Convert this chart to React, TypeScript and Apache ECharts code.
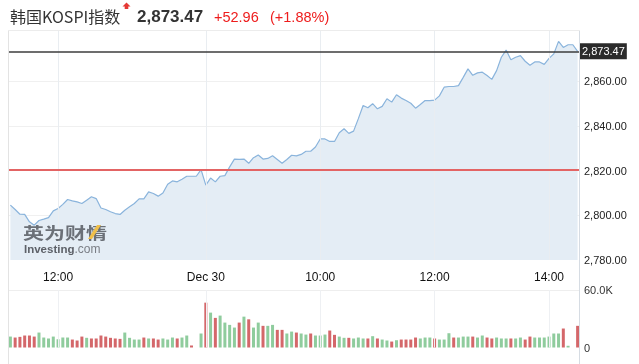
import React, { useEffect, useRef } from 'react';
import * as echarts from 'echarts';

// ---- data ----
const indexName = '韩国KOSPI指数';
const lastPrice = 2873.47;
const priceChange = 52.96;
const priceChangePct = 1.88;
const previousClose = 2820.51;

const sessions = [
  { day: 'Dec 29', start: '11:10', end: '14:30' },
  { day: 'Dec 30', start: '08:00', end: '14:30' },
];
const stepMinutes = 5;

function buildCategories(): string[] {
  const out: string[] = [];
  for (const s of sessions) {
    const [sh, sm] = s.start.split(':').map(Number);
    const [eh, em] = s.end.split(':').map(Number);
    for (let m = sh * 60 + sm; m <= eh * 60 + em; m += stepMinutes) {
      const hh = String(Math.floor(m / 60)).padStart(2, '0');
      const mm = String(m % 60).padStart(2, '0');
      out.push(`${s.day} ${hh}:${mm}`);
    }
  }
  return out;
}
const categories = buildCategories();

const tickCategories = ['Dec 29 12:00', 'Dec 30 08:00', 'Dec 30 10:00', 'Dec 30 12:00', 'Dec 30 14:00'];
const tickLabels = ['12:00', 'Dec 30', '10:00', '12:00', '14:00'];

const priceValues = [
  2804.6, 2802.6, 2800.5, 2800.4, 2797.1, 2795.6, 2797.7, 2798.3, 2799.0, 2802.0,
  2803.1, 2804.9, 2807.1, 2806.5, 2806.0, 2805.3, 2806.8, 2808.3, 2807.5, 2803.3,
  2802.6, 2801.6, 2800.8, 2800.4, 2802.3, 2803.8, 2805.3, 2807.4, 2807.4, 2810.5,
  2809.8, 2808.6, 2810.0, 2813.9, 2815.4, 2815.0, 2816.2, 2817.5, 2817.5, 2817.5,
  2820.5,
  2813.5, 2816.7, 2815.0, 2817.5, 2817.8, 2821.7, 2825.2, 2825.1, 2825.2, 2823.3,
  2825.8, 2827.0, 2825.2, 2825.5, 2826.7, 2825.0, 2823.3, 2825.0, 2826.9, 2826.6,
  2827.3, 2828.7, 2828.7, 2830.6, 2834.2, 2834.2, 2833.1, 2833.1, 2837.0, 2838.8,
  2836.7, 2837.7, 2843.3, 2849.2, 2848.2, 2850.0, 2847.7, 2848.8, 2852.2, 2850.7,
  2854.0, 2852.5, 2851.4, 2850.2, 2848.0, 2849.6, 2851.4, 2851.4, 2851.6, 2853.5,
  2857.4, 2857.7, 2857.7, 2858.1, 2861.8, 2865.6, 2862.7, 2863.8, 2864.1, 2862.6,
  2860.9, 2864.8, 2870.8, 2874.0, 2869.7, 2870.8, 2871.5, 2869.0, 2867.2, 2868.7,
  2868.7, 2867.6, 2870.3, 2872.3, 2877.9, 2875.2, 2876.4, 2876.4, 2873.47,
];

// volume in thousands
const volumeValues = [
  11.4, 10.4, 11.1, 12.5, 12.5, 11.4, 15.6, 10.4, 9.4, 11.4,
  8.6, 10.4, 10.4, 8.3, 7.3, 11.4, 10.1, 9.4, 9.4, 12.5,
  11.4, 10.1, 9.4, 9.0, 15.6, 10.1, 8.3, 8.3, 10.4, 9.4,
  9.4, 8.3, 9.4, 8.3, 10.4, 9.4, 10.4, 12.5, 2.1, 0,
  14.6,
  46.8, 36.4, 30.9, 33.3, 26.0, 23.6, 20.8, 26.0, 32.2, 29.4,
  20.8, 26.0, 22.6, 22.6, 23.6, 18.4, 18.4, 14.6, 16.6, 15.6,
  14.6, 13.5, 14.6, 12.5, 12.5, 13.5, 17.7, 13.2, 11.4, 10.1,
  10.1, 9.4, 10.4, 9.4, 9.4, 11.8, 9.4, 8.3, 7.3, 6.2,
  7.6, 8.3, 8.3, 8.3, 10.4, 9.4, 10.4, 10.4, 9.4, 8.3,
  8.3, 14.9, 10.4, 10.4, 11.4, 11.4, 11.4, 10.4, 12.5, 10.4,
  9.4, 10.4, 9.4, 9.4, 9.4, 9.4, 10.4, 8.3, 11.4, 10.4,
  10.4, 10.4, 11.4, 14.6, 14.6, 19.8, 1.8, 0, 22.6,
];
const volumeDirections = [
  'u', 'd', 'd', 'd', 'd', 'd', 'u', 'u', 'u', 'u',
  'u', 'u', 'u', 'd', 'd', 'd', 'u', 'd', 'd', 'd',
  'd', 'd', 'd', 'd', 'u', 'u', 'u', 'u', 'd', 'u',
  'd', 'd', 'u', 'u', 'u', 'd', 'u', 'u', 'd', 'u',
  'u',
  'd', 'u', 'd', 'u', 'u', 'u', 'u', 'd', 'u', 'd',
  'u', 'u', 'd', 'u', 'u', 'd', 'd', 'u', 'u', 'd',
  'u', 'u', 'd', 'u', 'u', 'u', 'd', 'd', 'u', 'u',
  'd', 'u', 'u', 'u', 'd', 'u', 'd', 'u', 'u', 'd',
  'u', 'd', 'd', 'd', 'd', 'u', 'u', 'u', 'd', 'u',
  'u', 'u', 'd', 'u', 'u', 'u', 'd', 'u', 'u', 'd',
  'd', 'u', 'u', 'u', 'd', 'u', 'u', 'd', 'd', 'u',
  'u', 'u', 'u', 'u', 'u', 'd', 'u', 'u', 'd',
];

const priceAxisMin = 2780;
const priceAxisMax = 2883;
const priceAxisStep = 20;
const volumeAxisMax = 60;

// ---- styles ----
const UP = '#8fcc9d';
const DOWN = '#d4676a';
const RED_TEXT = '#ee1c1c';
const CJK = '"Noto Sans CJK SC", sans-serif';
const LATIN = 'Arial, "Liberation Sans", sans-serif';

const fmt = (v: number) =>
  v.toLocaleString('en-US', { minimumFractionDigits: 2, maximumFractionDigits: 2 });

export default function App() {
  const ref = useRef<HTMLDivElement>(null);

  useEffect(() => {
    if (!ref.current) return;
    const chart = echarts.init(ref.current, null, { renderer: 'svg' });

    const option: any = {
      animation: false,
      grid: [
        { left: 8, right: 59, top: 30, height: 230 },
        { left: 8, right: 59, top: 290, height: 57.5 },
      ],
      xAxis: [
        {
          type: 'category',
          gridIndex: 0,
          data: categories,
          boundaryGap: true,
          axisLine: { show: false },
          axisTick: { show: false },
          splitLine: { show: false },
          axisLabel: {
            interval: (_i: number, v: string) => tickCategories.includes(v),
            formatter: (v: string) => {
              const k = tickCategories.indexOf(v);
              return k >= 0 ? tickLabels[k] : '';
            },
            color: '#111',
            fontSize: 12,
            margin: 11,
            fontFamily: LATIN,
          },
        },
        {
          type: 'category',
          gridIndex: 1,
          data: categories,
          boundaryGap: true,
          axisLine: { show: false },
          axisTick: { show: false },
          axisLabel: { show: false },
          splitLine: { show: false },
        },
      ],
      yAxis: [
        {
          type: 'value',
          gridIndex: 0,
          position: 'right',
          min: priceAxisMin,
          max: priceAxisMax,
          interval: priceAxisStep,
          axisLine: { show: false },
          axisTick: { show: false },
          axisLabel: {
            formatter: (v: number) => (v > lastPrice - 5 ? '' : fmt(v)),
            color: '#222',
            fontSize: 11,
            margin: 4,
            fontFamily: LATIN,
          },
          splitLine: {
            lineStyle: {
              color: ['rgba(0,0,0,0)', '#f0f0f0', 'rgba(0,0,0,0)', '#f0f0f0', '#f0f0f0', 'rgba(0,0,0,0)', 'rgba(0,0,0,0)'],
            },
          },
        },
        {
          type: 'value',
          gridIndex: 1,
          position: 'right',
          min: 0,
          max: volumeAxisMax,
          interval: volumeAxisMax,
          axisLine: { show: false },
          axisTick: { show: false },
          axisLabel: {
            formatter: (v: number) => (v === 0 ? '0' : v.toFixed(1) + 'K'),
            color: '#333',
            fontSize: 11,
            margin: 4,
            fontFamily: LATIN,
          },
          splitLine: { lineStyle: { color: ['rgba(0,0,0,0)', '#eeeeee'] } },
        },
      ],
      series: [
        {
          type: 'line',
          xAxisIndex: 0,
          yAxisIndex: 0,
          data: priceValues,
          symbol: 'none',
          lineStyle: { color: '#8ab4dc', width: 1.2 },
          areaStyle: { color: '#e4edf5', origin: 'start', opacity: 1 },
          z: 2,
          markLine: {
            silent: true,
            symbol: ['none', 'none'],
            animation: false,
            data: [
              ...tickCategories.map((c) => ({
                xAxis: c,
                lineStyle: { color: '#e9edf1', width: 1, type: 'solid' },
                label: { show: false },
              })),
              {
                yAxis: previousClose,
                lineStyle: { color: '#e36464', width: 2, type: 'solid' },
                label: { show: false },
              },
              {
                yAxis: lastPrice,
                lineStyle: { color: '#3c3c3c', width: 1.5, type: 'solid' },
                label: {
                  show: true,
                  position: 'end',
                  distance: 0,
                  formatter: fmt(lastPrice),
                  backgroundColor: '#2b2b2b',
                  color: '#fff',
                  fontSize: 11,
                  fontFamily: LATIN,
                  padding: [3, 2, 2, 2],
                },
              },
            ],
          },
        },
        {
          type: 'bar',
          xAxisIndex: 1,
          yAxisIndex: 1,
          barWidth: 3,
          data: volumeValues.map((v, i) => ({
            value: v,
            itemStyle: { color: volumeDirections[i] === 'u' ? UP : DOWN },
          })),
          markLine: {
            silent: true,
            symbol: ['none', 'none'],
            animation: false,
            label: { show: false },
            lineStyle: { color: '#eef0f3', width: 1, type: 'solid' },
            data: tickCategories.map((c) => ({ xAxis: c })),
          },
        },
      ],
      graphic: [
        // frame
        { type: 'line', z: 50, shape: { x1: 8.5, y1: 30, x2: 8.5, y2: 364 }, style: { stroke: '#e3e3e3', lineWidth: 1 } },
        { type: 'line', z: 50, shape: { x1: 579.5, y1: 30, x2: 579.5, y2: 364 }, style: { stroke: '#d6dce3', lineWidth: 1 } },
        { type: 'line', z: 50, shape: { x1: 8, y1: 30.5, x2: 580, y2: 30.5 }, style: { stroke: '#ececec', lineWidth: 1 } },
        // title
        {
          type: 'text', x: 10, y: 16, z: 60,
          style: { text: indexName, fill: '#333', fontSize: 16, fontFamily: CJK, verticalAlign: 'middle' },
        },
        {
          type: 'polygon', z: 60,
          shape: { points: [[126.5, 2.5], [130.5, 6.5], [128.3, 6.5], [128.3, 9], [124.7, 9], [124.7, 6.5], [122.5, 6.5]] },
          style: { fill: '#e53935' },
        },
        {
          type: 'text', x: 137, y: 16.5, z: 60,
          style: { text: fmt(lastPrice), fill: '#333', fontSize: 17, fontWeight: 'bold', fontFamily: LATIN, verticalAlign: 'middle' },
        },
        {
          type: 'text', x: 214, y: 16.5, z: 60,
          style: { text: '+' + priceChange.toFixed(2), fill: RED_TEXT, fontSize: 14.5, fontFamily: LATIN, verticalAlign: 'middle' },
        },
        {
          type: 'text', x: 270, y: 16.5, z: 60,
          style: { text: '(+' + priceChangePct.toFixed(2) + '%)', fill: RED_TEXT, fontSize: 14.5, fontFamily: LATIN, verticalAlign: 'middle' },
        },
        // watermark
        {
          type: 'group', x: 23, y: 232, scaleY: 0.74, z: 40,
          children: [
            {
              type: 'text', x: 0, y: 0, z: 40,
              style: { text: '英为财情', fill: '#6b7077', fontSize: 21, fontWeight: 'bold', fontFamily: CJK, verticalAlign: 'middle' },
            },
          ],
        },
        {
          type: 'polygon', z: 41,
          shape: { points: [[88, 239], [92, 239], [101, 225], [97, 225]] },
          style: { fill: '#f0c04a' },
        },
        {
          type: 'text', x: 24, y: 248.5, z: 40,
          style: {
            text: '{a|Investing}{b|.com}',
            verticalAlign: 'middle',
            rich: {
              a: { fontSize: 11.5, fontWeight: 'bold', fill: '#5d6168', fontFamily: LATIN },
              b: { fontSize: 12, fill: '#7a7e85', fontFamily: LATIN },
            },
          },
        },
      ],
    };

    chart.setOption(option);
    return () => chart.dispose();
  }, []);

  return <div ref={ref} style={{ position: 'fixed', left: 0, top: 0, width: 639, height: 364 }} />;
}
